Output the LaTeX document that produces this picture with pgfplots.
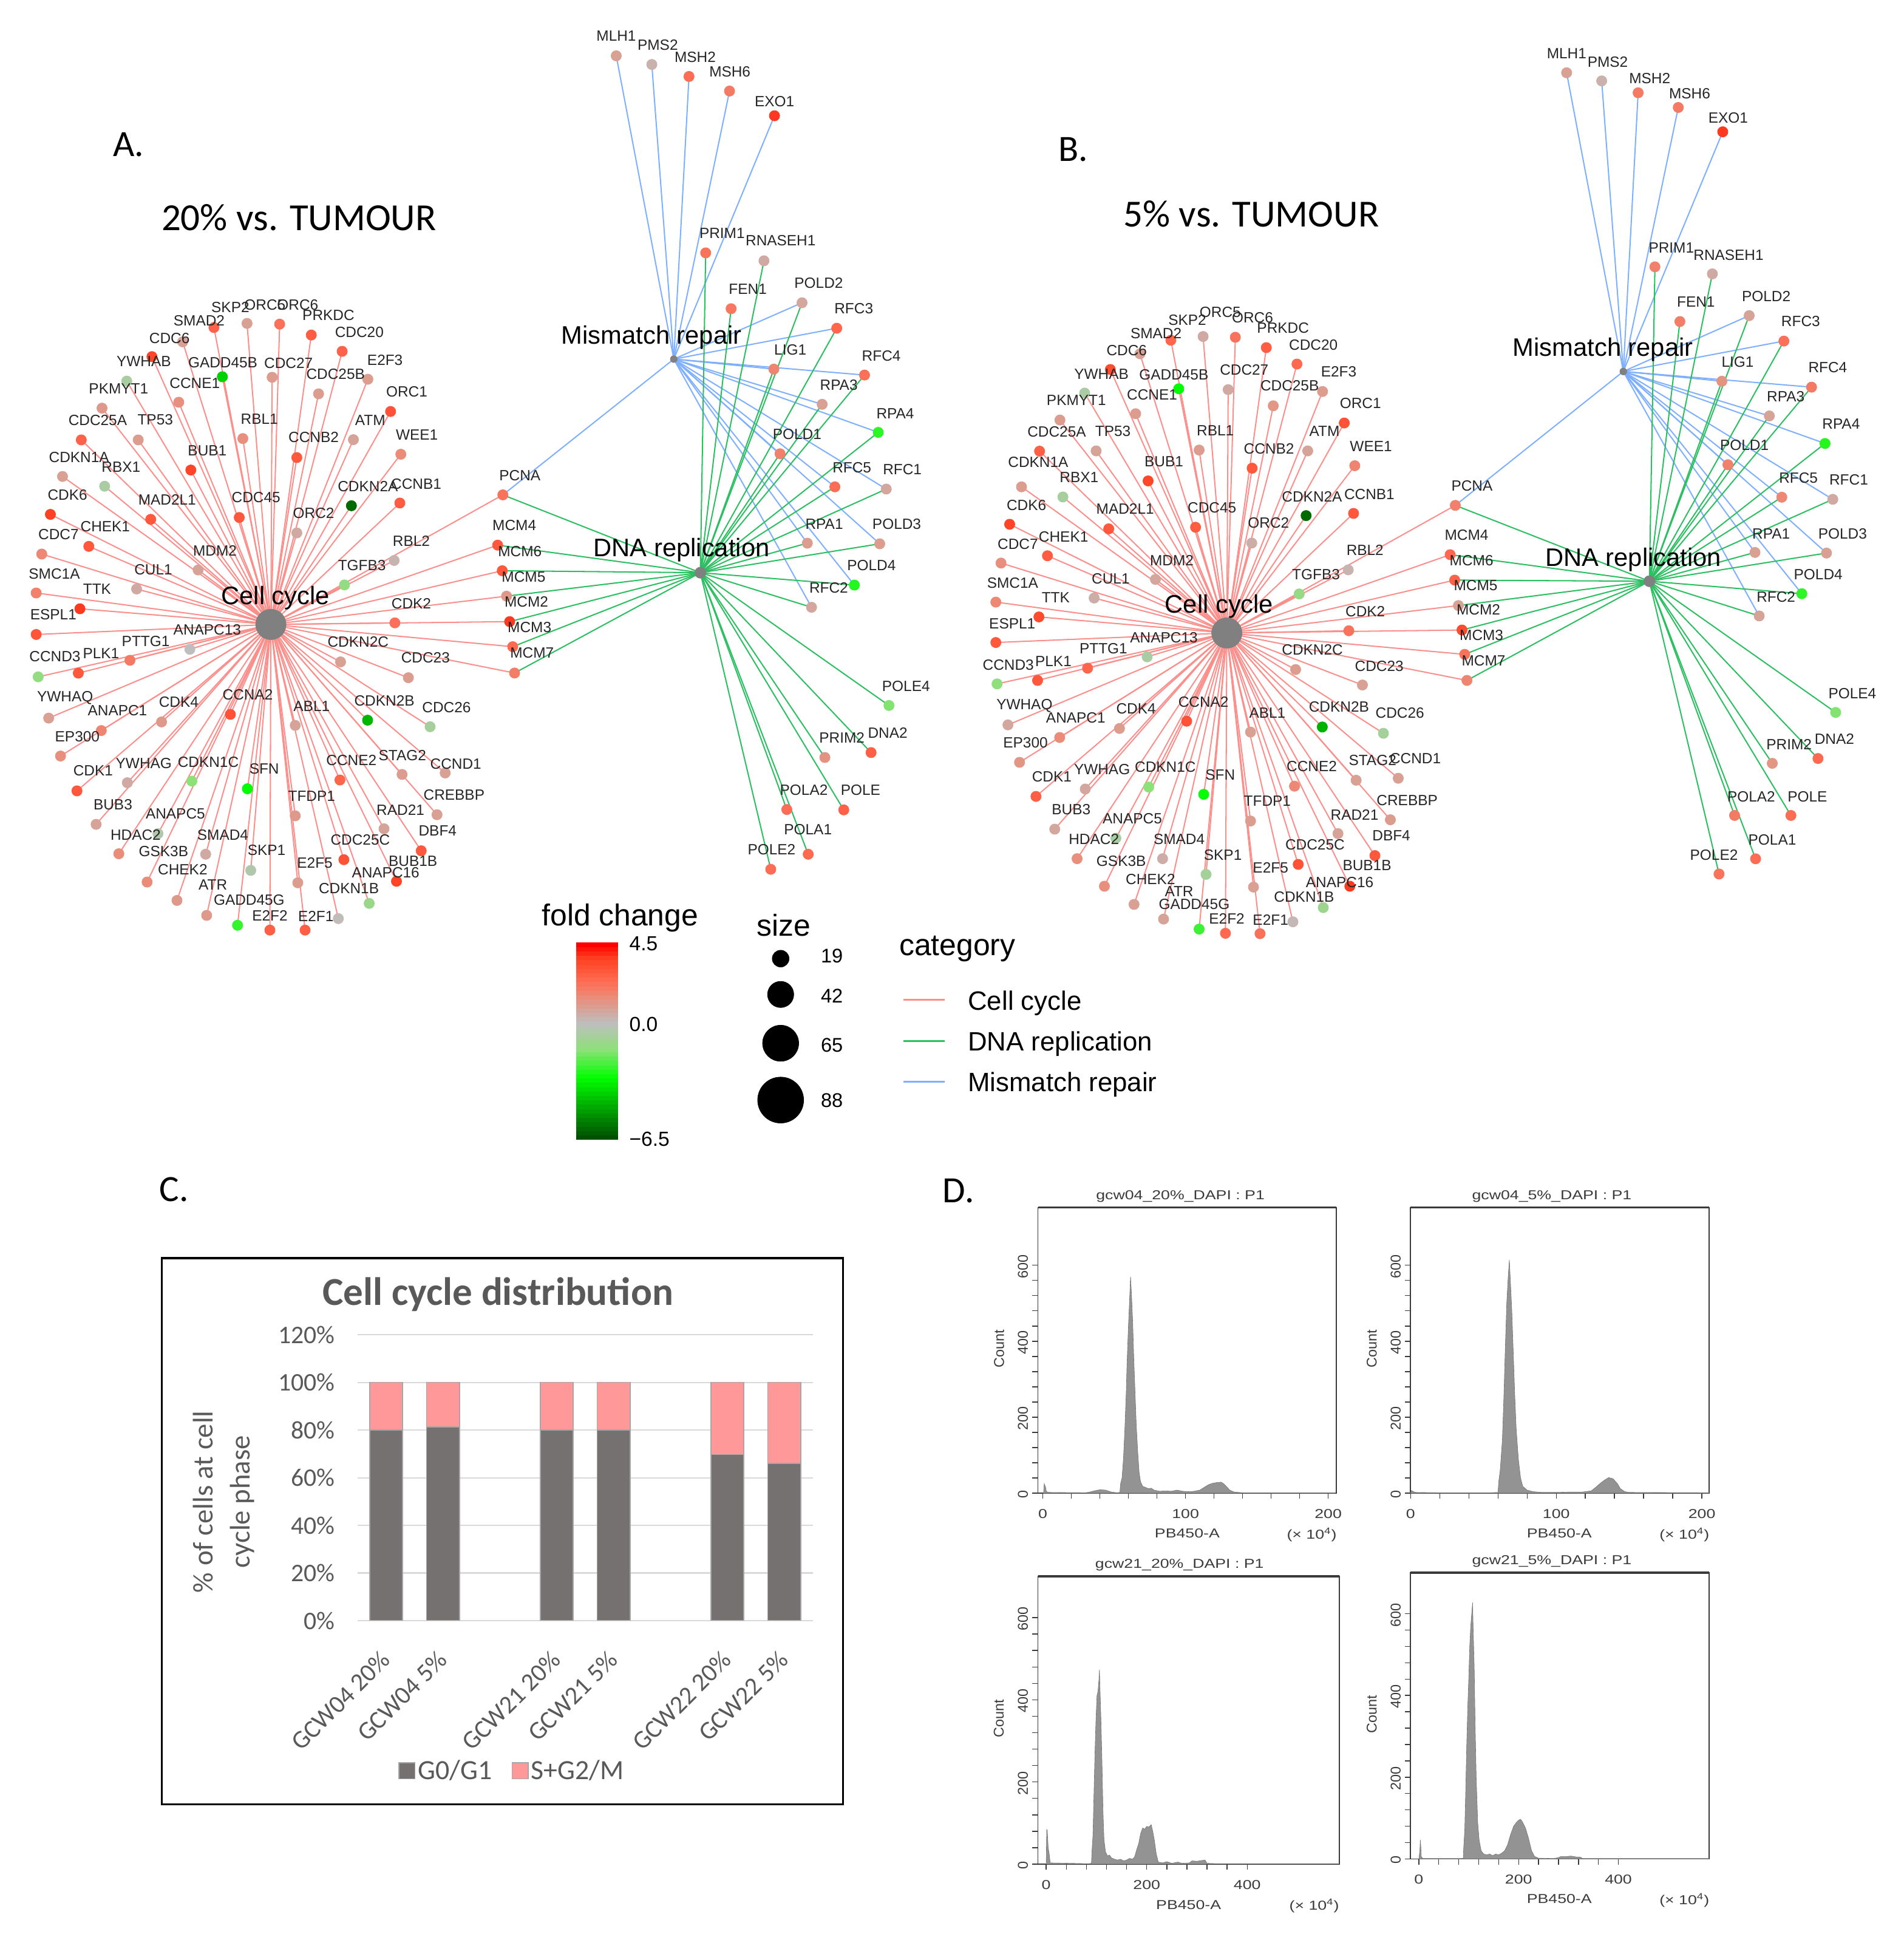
\documentclass[border=0pt]{standalone}
\usepackage{fontspec}
\usepackage{pgfplots}
\usepackage{pgfplotstable}
\pgfplotsset{compat=1.18}
\setmainfont{Liberation Sans}
\newfontfamily\calibri{Carlito}
\newfontfamily\histwide[FakeStretch=1.25]{Liberation Sans}
\newcommand{\fs}[1]{\fontsize{#1}{#1}\selectfont}
\newcommand{\netfont}{\fs{12}}

\definecolor{edgecell}{HTML}{FB8F8C}
\definecolor{edgedna}{HTML}{2CBF62}
\definecolor{edgemmr}{HTML}{7FB0FF}
\definecolor{labeltxt}{HTML}{262626}
\definecolor{hubgrey}{HTML}{808080}
\definecolor{excelgrey}{HTML}{595959}
\definecolor{bardark}{HTML}{767171}
\definecolor{barpink}{HTML}{FF9999}
\definecolor{barline}{HTML}{A6A6A6}
\definecolor{gridl}{HTML}{D9D9D9}
\definecolor{histfill}{HTML}{939393}
\definecolor{histline}{HTML}{3A3A3A}

\pgfdeclareplotmark{cbcell}{\pgfpathrectangle{\pgfpoint{-17pt}{-2pt}}{\pgfpoint{34pt}{4pt}}\pgfusepathqfill}

\pgfplotsset{
  /pgf/number format/assume math mode=true,
  colormap={fc}{rgb255(0)=(0,80,0) rgb255(34)=(0,255,0) rgb255(50)=(140,225,120)
    rgb255(65)=(190,190,190) rgb255(80)=(235,140,120) rgb255(90)=(255,105,80) rgb255(102)=(255,65,35) rgb255(110)=(255,0,0)},
  colormap name=fc,
  hist/.style={
    scale only axis, axis line style={histline,line width=0.9pt},
    tick style={histline,line width=0.7pt}, tick pos=left,
    tick align=outside, major tick length=4.5pt, minor tick length=4.5pt,
    ymin=0, xtick={0,100,200}, ytick={0,200,400,600},
    minor x tick num=4, minor y tick num=4,
    x tick label style={font=\histwide\fs{10.5},yshift=-5pt,text=histline},
    y tick label style={font=\fs{11.5},rotate=90,anchor=south,text=histline,xshift=-1pt},
    title style={font=\histwide\fs{10.5},text=histline,anchor=center,yshift=-6pt},
    every axis x label/.style={font=\histwide\fs{10.5},text=histline,anchor=center},
    ylabel=Count,
    every axis y label/.style={font=\fs{11.5},text=histline,rotate=90,anchor=center,at={(axis description cs:-0.13,0.505)}},
    xlabel=PB450-A,
    extra description/.code={
      \draw[histline,line width=1.8pt] (axis description cs:0,1)--(axis description cs:1,1);
      \node[font=\histwide\fs{10.5},text=histline] at (axis description cs:0.917,-0.145) {(× 10\textsuperscript{4})};
    }},
  histshape/.style={fill=histfill,draw=histline!70,line width=0.3pt}
}

% lab, node x y, fold change, label x y, membership of cell cycle / DNA replication / mismatch repair
\pgfplotstableread{
lab x y fc lx ly cc dna mmr
SMAD2 147.9 276.7 0.9 161.2 259.8 1 0 0
SKP2 173.2 265.1 2.7 186.5 248.6 1 0 0
ORC5 200.0 261.8 0.9 214.5 246.6 1 0 0
ORC6 226.4 262.4 2.3 241.0 246.6 1 0 0
PRKDC 252.0 271.2 2.9 265.9 255.2 1 0 0
CDC20 277.0 284.4 2.7 290.9 269.0 1 0 0
E2F3 297.8 307.0 1.0 311.7 291.4 1 0 0
ORC1 316.2 333.1 3.2 329.3 317.3 1 0 0
CDC6 123.0 288.7 3.6 137.2 273.8 1 0 0
YWHAB 102.6 308.5 -0.6 116.4 292.5 1 0 0
PKMYT1 82.6 330.4 1.1 96.0 314.4 1 0 0
CDC25A 65.8 356.1 2.7 79.1 340.1 1 0 0
CDKN1A 50.6 385.7 0.9 64.0 370.0 1 0 0
CDK6 40.8 416.4 3.7 54.6 400.6 1 0 0
CDC7 33.8 448.5 1.6 47.4 432.5 1 0 0
SMC1A 29.3 480.0 1.8 44.0 464.7 1 0 0
ESPL1 29.3 513.6 3.1 43.2 497.6 1 0 0
CCND3 30.9 547.9 -1.3 44.5 531.6 1 0 0
GADD45B 180.0 305.0 -4.0 180.4 293.6 1 0 0
CCNE1 144.7 325.6 1.4 157.7 310.0 1 0 0
CDC27 220.3 305.4 1.0 233.6 294.2 1 0 0
CDC25B 257.9 318.8 1.0 271.7 303.0 1 0 0
TP53 111.9 356.1 1.0 125.7 339.9 1 0 0
RBL1 196.6 355.0 1.4 210.0 339.0 1 0 0
CCNB2 240.3 370.4 3.0 253.9 354.1 1 0 0
ATM 286.1 355.9 0.8 299.7 340.3 1 0 0
WEE1 324.5 367.7 1.5 337.5 352.0 1 0 0
CCNB1 323.7 407.2 2.9 337.0 391.9 1 0 0
CDKN2A 284.5 409.4 -6.0 297.8 393.6 1 0 0
ORC2 240.3 431.4 0.6 253.9 415.3 1 0 0
CDC45 193.7 418.9 3.0 207.3 402.8 1 0 0
BUB1 154.5 380.5 3.6 167.8 364.9 1 0 0
MAD2L1 122.0 420.4 3.0 135.3 404.4 1 0 0
RBX1 84.7 393.6 -0.6 98.0 378.0 1 0 0
CHEK1 71.9 442.3 3.0 85.2 426.3 1 0 0
MDM2 160.4 461.4 0.8 174.0 445.6 1 0 0
CUL1 110.6 476.8 0.6 124.1 461.0 1 0 0
TTK 64.7 492.8 3.8 78.6 476.8 1 0 0
RBL2 319.1 453.7 0.3 333.0 438.0 1 0 0
TGFB3 278.9 473.5 -1.3 293.0 457.7 1 0 0
CDK2 319.7 504.2 2.3 333.0 488.4 1 0 0
ANAPC13 153.7 525.6 0.0 167.8 509.7 1 0 0
PTTG1 105.2 534.5 2.0 118.0 519.1 1 0 0
PLK1 63.4 544.9 3.0 81.8 529.0 1 0 0
CDKN2C 275.7 535.8 0.9 289.9 519.8 1 0 0
CDC23 330.6 548.6 1.0 344.5 532.3 1 0 0
YWHAQ 39.4 581.3 0.9 52.7 565.1 1 0 0
ANAPC1 82.0 591.4 1.7 95.1 575.3 1 0 0
CDK4 130.8 584.4 1.1 144.7 568.3 1 0 0
CCNA2 186.5 578.3 3.2 200.6 562.5 1 0 0
ABL1 239.0 587.2 0.8 252.3 571.6 1 0 0
CDKN2B 297.6 583.0 -4.5 311.2 567.2 1 0 0
CDC26 348.2 588.3 -0.7 361.5 572.5 1 0 0
EP300 49.0 612.0 1.4 62.6 596.2 1 0 0
CDK1 62.3 640.2 3.0 75.4 623.9 1 0 0
YWHAG 103.1 633.6 0.6 116.4 617.8 1 0 0
CDKN1C 155.3 632.3 -1.5 168.6 616.9 1 0 0
SFN 200.3 638.5 -3.1 213.9 622.5 1 0 0
CCNE2 275.2 631.4 2.6 284.5 615.5 1 0 0
STAG2 325.5 626.9 1.0 325.8 611.3 1 0 0
CCND1 360.4 625.7 0.9 369.0 618.3 1 0 0
TFDP1 239.0 660.4 1.1 252.3 644.4 1 0 0
CREBBP 353.8 659.5 0.9 367.6 643.6 1 0 0
RAD21 310.9 670.9 0.8 324.2 655.5 1 0 0
DBF4 341.0 688.7 3.0 354.3 672.7 1 0 0
BUB3 77.8 667.3 0.8 91.4 651.1 1 0 0
ANAPC5 127.9 674.8 -0.4 142.0 658.5 1 0 0
HDAC2 96.2 691.1 1.5 109.8 675.7 1 0 0
SMAD4 166.5 691.5 0.6 180.4 675.7 1 0 0
GSK3B 119.1 714.0 1.5 132.4 689.2 1 0 0
CHEK2 143.3 728.9 1.1 147.9 703.8 1 0 0
SKP1 203.0 704.6 -0.4 215.8 688.3 1 0 0
CDC25C 278.4 695.9 3.2 291.7 680.0 1 0 0
E2F5 241.1 714.6 1.0 254.9 698.5 1 0 0
BUB1B 321.0 713.4 3.6 334.3 697.1 1 0 0
ANAPC16 298.9 731.3 -1.1 312.2 706.4 1 0 0
CDKN1B 273.9 743.6 0.1 282.4 719.0 1 0 0
ATR 167.3 741.0 1.1 172.4 716.0 1 0 0
GADD45G 192.3 749.0 -2.5 201.7 728.7 1 0 0
E2F2 218.5 752.9 2.8 218.5 741.1 1 0 0
E2F1 247.0 752.9 2.8 255.7 741.5 1 0 0
PCNA 407.1 400.6 2.2 420.9 384.8 1 1 1
MCM4 402.9 441.3 3.0 416.4 425.2 1 1 0
MCM6 406.6 462.0 3.0 420.9 446.3 1 1 0
MCM5 410.1 482.6 1.1 423.9 467.1 1 1 0
MCM2 412.6 503.2 3.8 426.2 487.4 1 1 0
MCM3 415.1 523.5 2.5 428.7 507.7 1 1 0
MCM7 416.6 544.8 1.9 430.7 528.5 1 1 0
MLH1 498.9 45.2 0.9 498.9 29.2 0 0 1
PMS2 527.7 52.2 0.4 532.5 36.2 0 0 1
MSH2 557.8 61.9 2.4 562.8 46.1 0 0 1
MSH6 590.6 73.7 2.0 590.9 57.9 0 0 1
EXO1 627.0 93.7 3.8 627.0 82.3 0 0 1
PRIM1 571.3 204.7 2.2 584.6 188.7 0 1 0
RNASEH1 618.5 211.1 0.6 632.0 194.6 0 1 0
FEN1 591.9 249.9 2.1 605.4 234.1 0 1 0
POLD2 649.3 245.1 0.7 662.8 229.3 0 1 1
RFC3 677.4 265.7 2.6 691.2 249.7 0 1 1
LIG1 626.5 298.8 1.7 639.8 283.0 0 1 1
RFC4 699.9 303.6 2.3 713.5 287.9 0 1 1
RPA3 665.6 327.3 0.9 679.1 311.5 0 1 1
RPA4 711.0 350.0 -2.6 724.8 334.6 0 1 1
POLD1 631.5 367.3 1.8 645.3 351.7 0 1 1
RFC5 675.9 394.1 2.4 689.7 378.6 0 1 1
RFC1 717.5 395.9 0.7 730.5 379.8 0 1 1
RPA1 653.6 439.7 1.0 667.3 424.0 0 1 1
POLD3 712.2 440.2 1.0 726.0 424.0 0 1 1
POLD4 691.7 473.6 -2.7 705.5 457.5 0 1 1
RFC2 657.0 491.6 0.7 670.9 475.8 0 1 1
POLE4 719.7 571.1 -1.6 733.5 555.3 0 1 0
PRIM2 667.8 613.2 1.3 681.6 597.4 0 1 0
DNA2 705.2 609.2 2.8 718.7 593.2 0 1 0
POLA2 637.0 655.3 2.4 650.8 639.3 0 1 0
POLE 683.1 655.6 2.7 696.7 639.3 0 1 0
POLA1 654.3 691.5 2.5 654.1 671.4 0 1 0
POLE2 624.0 703.7 2.4 624.7 687.7 0 1 0
}\netA

\pgfplotstableread{
lab x y fc lx ly cc dna mmr
SMAD2 922.9 286.4 0.9 935.9 270.0 1 0 0
SKP2 947.9 275.4 2.6 961.2 259.0 1 0 0
ORC5 974.0 272.4 0.6 987.9 252.8 1 0 0
ORC6 1000.1 273.0 2.2 1014.0 257.2 1 0 0
PRKDC 1025.2 281.4 2.9 1038.7 265.6 1 0 0
CDC20 1050.0 294.7 2.5 1063.3 279.2 1 0 0
E2F3 1070.7 316.9 1.0 1083.8 301.1 1 0 0
ORC1 1088.3 342.4 3.2 1101.4 326.6 1 0 0
CDC6 898.9 299.1 3.4 912.2 283.8 1 0 0
YWHAB 878.1 318.2 -0.6 891.7 302.9 1 0 0
PKMYT1 858.1 340.0 1.0 871.4 324.1 1 0 0
CDC25A 841.6 365.2 2.8 855.5 349.4 1 0 0
CDKN1A 827.0 394.1 1.0 840.5 374.2 1 0 0
CDK6 817.4 424.4 3.6 831.0 408.8 1 0 0
CDC7 810.4 455.8 1.4 824.0 440.4 1 0 0
SMC1A 806.2 487.4 1.6 819.8 471.8 1 0 0
ESPL1 806.2 520.1 3.0 819.5 504.7 1 0 0
CCND3 807.2 553.6 -1.4 816.3 538.1 1 0 0
GADD45B 954.3 314.7 -3.1 950.3 303.3 1 0 0
CCNE1 919.4 334.9 1.0 932.7 319.3 1 0 0
CDC27 994.3 315.4 0.6 1007.3 299.6 1 0 0
CDC25B 1030.8 328.5 1.2 1044.1 312.3 1 0 0
TP53 887.4 365.0 0.8 901.0 349.2 1 0 0
RBL1 970.8 364.3 1.0 983.9 348.5 1 0 0
CCNB2 1013.7 379.0 3.0 1027.3 363.2 1 0 0
ATM 1058.7 365.0 0.8 1072.3 349.0 1 0 0
WEE1 1096.8 377.0 1.7 1109.9 361.4 1 0 0
CCNB1 1095.8 415.6 3.0 1108.6 400.1 1 0 0
CDKN2A 1057.4 417.4 -6.0 1062.2 402.3 1 0 0
ORC2 1013.4 439.6 0.5 1027.0 423.5 1 0 0
CDC45 967.9 426.8 2.9 981.2 411.0 1 0 0
BUB1 929.5 389.3 3.5 942.3 373.5 1 0 0
MAD2L1 897.6 428.1 3.0 910.9 412.1 1 0 0
RBX1 860.5 402.3 -0.7 873.6 386.2 1 0 0
CHEK1 848.0 449.9 2.9 861.0 434.5 1 0 0
MDM2 935.4 469.0 0.7 948.7 453.6 1 0 0
CUL1 885.8 484.1 0.5 899.2 468.5 1 0 0
TTK 841.1 499.4 3.4 854.7 483.9 1 0 0
RBL2 1091.5 461.3 0.3 1105.1 445.5 1 0 0
TGFB3 1051.8 480.8 -1.2 1065.4 464.8 1 0 0
CDK2 1092.0 510.6 2.2 1105.3 494.8 1 0 0
ANAPC13 928.7 531.7 -0.6 942.3 516.3 1 0 0
PTTG1 880.5 540.9 2.6 893.3 525.1 1 0 0
PLK1 840.0 550.8 3.0 852.8 535.4 1 0 0
CDKN2C 1048.9 542.0 1.0 1062.5 526.2 1 0 0
CDC23 1103.0 554.5 0.9 1116.6 539.2 1 0 0
YWHAQ 816.0 586.8 0.7 829.4 571.1 1 0 0
ANAPC1 857.9 597.0 1.5 870.9 581.2 1 0 0
CDK4 906.3 589.7 1.0 919.7 573.9 1 0 0
CCNA2 960.7 583.8 3.2 974.3 568.2 1 0 0
ABL1 1012.4 592.6 0.9 1026.0 577.0 1 0 0
CDKN2B 1070.5 588.5 -4.6 1084.0 572.3 1 0 0
CDC26 1120.0 593.6 -0.8 1133.3 577.3 1 0 0
EP300 825.4 617.1 1.2 830.2 601.2 1 0 0
CDK1 838.7 644.7 2.8 851.5 628.6 1 0 0
YWHAG 878.6 638.7 0.7 892.2 622.7 1 0 0
CDKN1C 930.0 637.1 -1.5 943.4 621.0 1 0 0
SFN 974.5 643.0 -3.0 987.9 627.4 1 0 0
CCNE2 1048.0 636.4 1.6 1062.0 620.6 1 0 0
STAG2 1097.9 631.6 0.9 1111.2 615.6 1 0 0
CCND1 1132.0 630.0 0.9 1145.8 614.2 1 0 0
TFDP1 1012.4 664.6 1.0 1026.0 648.6 1 0 0
CREBBP 1125.6 663.6 1.0 1139.2 647.7 1 0 0
RAD21 1083.2 674.8 0.8 1096.6 659.6 1 0 0
DBF4 1113.1 692.6 3.0 1126.4 676.5 1 0 0
BUB3 853.9 671.2 0.7 867.2 655.3 1 0 0
ANAPC5 903.4 678.5 -0.6 916.7 662.4 1 0 0
HDAC2 872.0 695.1 1.4 885.6 679.4 1 0 0
SMAD4 941.2 695.1 0.5 954.6 679.4 1 0 0
GSK3B 894.1 717.4 1.4 907.7 697.1 1 0 0
CHEK2 918.1 732.1 0.9 931.4 712.0 1 0 0
SKP1 976.4 707.8 -0.8 990.0 692.0 1 0 0
CDC25C 1051.0 699.7 3.2 1064.6 683.6 1 0 0
E2F5 1014.8 718.1 0.9 1028.6 702.5 1 0 0
BUB1B 1092.8 717.4 3.8 1106.7 700.5 1 0 0
ANAPC16 1071.3 734.7 -1.0 1084.6 714.0 1 0 0
CDKN1B 1046.7 746.2 0.2 1055.8 726.2 1 0 0
ATR 942.0 744.0 0.8 954.6 721.7 1 0 0
GADD45G 970.8 752.1 -2.4 966.8 731.8 1 0 0
E2F2 992.1 755.5 2.5 993.2 743.7 1 0 0
E2F1 1020.1 755.8 2.3 1028.6 744.5 1 0 0
PCNA 1178.2 409.1 1.8 1191.7 393.3 1 1 1
MCM4 1174.0 449.0 2.5 1187.3 433.2 1 1 0
MCM6 1177.7 469.6 2.7 1191.3 453.8 1 1 0
MCM5 1180.7 490.2 0.9 1194.7 474.0 1 1 0
MCM2 1183.6 510.0 3.4 1196.9 493.7 1 1 0
MCM3 1185.8 529.7 2.2 1199.4 514.4 1 1 0
MCM7 1187.6 550.8 1.7 1201.1 534.6 1 1 0
MLH1 1268.3 58.9 0.9 1268.3 43.5 0 0 1
PMS2 1296.7 65.5 0.4 1301.6 50.1 0 0 1
MSH2 1326.2 75.1 2.0 1335.6 63.7 0 0 1
MSH6 1358.7 87.0 2.0 1367.9 75.6 0 0 1
EXO1 1394.7 106.7 3.8 1399.1 95.3 0 0 1
PRIM1 1339.8 216.0 1.8 1353.1 200.6 0 1 0
RNASEH1 1386.3 221.7 0.6 1399.4 206.3 0 1 0
FEN1 1360.0 260.3 1.9 1373.0 244.5 0 1 0
POLD2 1416.1 255.5 0.8 1429.9 240.1 0 1 1
RFC3 1444.2 276.1 2.3 1457.8 259.9 0 1 1
LIG1 1394.0 308.6 1.3 1406.8 292.8 0 1 1
RFC4 1466.6 313.4 2.0 1479.7 297.6 0 1 1
RPA3 1432.4 336.7 0.8 1445.7 320.9 0 1 1
RPA4 1477.5 359.0 -2.7 1490.5 343.2 0 1 1
POLD1 1398.9 376.2 1.8 1412.2 360.4 0 1 1
RFC5 1442.5 402.5 1.6 1456.0 387.1 0 1 1
RFC1 1483.8 404.2 0.6 1496.7 388.4 0 1 1
RPA1 1420.8 447.2 0.9 1433.9 431.9 0 1 1
POLD3 1478.7 447.7 0.9 1491.7 431.9 0 1 1
POLD4 1458.7 480.6 -2.6 1472.0 464.8 0 1 1
RFC2 1424.2 498.6 0.8 1437.8 483.2 0 1 1
POLE4 1486.1 576.7 -1.6 1499.6 561.3 0 1 0
PRIM2 1434.8 617.9 1.2 1448.4 602.6 0 1 0
DNA2 1471.8 614.0 2.5 1485.1 598.2 0 1 0
POLA2 1404.3 660.1 2.0 1417.8 644.7 0 1 0
POLE 1449.9 660.1 2.4 1463.2 644.7 0 1 0
POLA1 1421.3 695.2 2.4 1434.8 679.8 0 1 0
POLE2 1391.7 707.5 2.2 1387.6 692.1 0 1 0
}\netB

% #1 table, #2 #3 cell cycle hub, #4 #5 DNA replication hub, #6 #7 mismatch repair hub
\newcommand{\network}[7]{
  \addplot[edgecell,line width=1pt,quiver={u=\thisrow{cc}*(#2-\thisrow{x}),v=\thisrow{cc}*(#3-\thisrow{y})}] table[x=x,y=y]{#1};
  \addplot[edgemmr,line width=1pt,quiver={u=\thisrow{mmr}*(#6-\thisrow{x}),v=\thisrow{mmr}*(#7-\thisrow{y})}] table[x=x,y=y]{#1};
  \addplot[edgedna,line width=1pt,quiver={u=\thisrow{dna}*(#4-\thisrow{x}),v=\thisrow{dna}*(#5-\thisrow{y})}] table[x=x,y=y]{#1};
  \addplot[scatter,only marks,mark=*,mark size=4.2,point meta=explicit,
    scatter/use mapped color={draw=mapped color,fill=mapped color}] table[x=x,y=y,meta=fc]{#1};
  \addplot[only marks,mark=none,point meta=explicit symbolic,nodes near coords,
    nodes near coords style={anchor=center,inner sep=0pt,font=\netfont,text=labeltxt}]
    table[x=lx,y=ly,meta=lab]{#1};
}

\begin{document}
\begin{tikzpicture}
\path[use as bounding box] (0,0) rectangle (1541pt,1568pt);

\begin{axis}[
  at={(0pt,0pt)}, anchor=south west, scale only axis,
  width=1541pt, height=1568pt,
  xmin=0, xmax=1541, ymin=0, ymax=1568, y dir=reverse,
  hide axis, clip=false,
  point meta min=-6.5, point meta max=4.5]

  % panel A
  \network{\netA}{219.3}{505.5}{567.0}{463.6}{545.5}{290.7}
  \addplot[only marks,mark=*,mark size=12.3,hubgrey] coordinates {(219.3,505.5)};
  \addplot[only marks,mark=*,mark size=4.5,hubgrey] coordinates {(567.0,463.6)};
  \addplot[only marks,mark=*,mark size=2.8,hubgrey] coordinates {(545.5,290.7)};
  \node[font=\fs{20.5},text=black] at (axis cs:223,484) {Cell cycle};
  \node[font=\fs{20.5},text=black] at (axis cs:551.8,445.3) {DNA replication};
  \node[font=\fs{20.5},text=black] at (axis cs:527.5,273) {Mismatch repair};

  % panel B
  \network{\netB}{993.2}{512.4}{1335.3}{470.5}{1314.2}{300.7}
  \addplot[only marks,mark=*,mark size=12.3,hubgrey] coordinates {(993.2,512.4)};
  \addplot[only marks,mark=*,mark size=4.5,hubgrey] coordinates {(1335.3,470.5)};
  \addplot[only marks,mark=*,mark size=2.8,hubgrey] coordinates {(1314.2,300.7)};
  \node[font=\fs{20.5},text=black] at (axis cs:987,491) {Cell cycle};
  \node[font=\fs{20.5},text=black] at (axis cs:1322.3,453.2) {DNA replication};
  \node[font=\fs{20.5},text=black] at (axis cs:1297.7,282.9) {Mismatch repair};

  % panel letters and titles
  \node[font=\calibri\fs{30}] at (axis cs:104,117) {A.};
  \node[font=\calibri\fs{30}] at (axis cs:869,121) {B.};
  \node[font=\calibri\fs{30}] at (axis cs:141,963) {C.};
  \node[font=\calibri\fs{30}] at (axis cs:776,964) {D.};
  \node[font=\calibri\fs{31}] at (axis cs:242,176) {20\% vs. TUMOUR};
  \node[font=\calibri\fs{31}] at (axis cs:1013,173) {5\% vs. TUMOUR};

  % legends
  \node[font=\fs{24.5}] at (axis cs:502,743) {fold change};
  \node[font=\fs{24.5}] at (axis cs:634.5,749) {size};
  \node[font=\fs{24.5}] at (axis cs:775,768) {category};
  \node[font=\fs{16.5},anchor=west] at (axis cs:506,764) {4.5};
  \node[font=\fs{16.5},anchor=west] at (axis cs:506,829) {0.0};
  \node[font=\fs{16.5},anchor=west] at (axis cs:506,922) {−6.5};

  \addplot[only marks,mark=*,mark size=6.8,black] coordinates {(632,776)};
  \addplot[only marks,mark=*,mark size=10.6,black] coordinates {(632,805)};
  \addplot[only marks,mark=*,mark size=14.6,black] coordinates {(632,844.5)};
  \addplot[only marks,mark=*,mark size=18.6,black] coordinates {(632,890.5)};
  \node[font=\fs{16},anchor=center] at (axis cs:673.5,774) {19};
  \node[font=\fs{16},anchor=center] at (axis cs:673.5,806) {42};
  \node[font=\fs{16},anchor=center] at (axis cs:673.5,846) {65};
  \node[font=\fs{16},anchor=center] at (axis cs:673.5,891) {88};

  \addplot[edgecell,line width=1.5pt] coordinates {(731.4,809.5) (765,809.5)};
  \addplot[edgedna,line width=1.5pt] coordinates {(731.4,842.5) (765,842.5)};
  \addplot[edgemmr,line width=1.5pt] coordinates {(731.4,875.5) (765,875.5)};
  \node[font=\fs{21.5},anchor=west,inner sep=0pt] at (axis cs:783.5,812) {Cell cycle};
  \node[font=\fs{21.5},anchor=west,inner sep=0pt] at (axis cs:783.5,845) {DNA replication};
  \node[font=\fs{21.5},anchor=west,inner sep=0pt] at (axis cs:783.5,878) {Mismatch repair};

  % frame of panel C
  \draw[black,line width=1.6pt] (axis cs:131,1018.5) rectangle (axis cs:682.5,1460.5);
\end{axis}

% fold change colour bar
\begin{axis}[
  at={(467.7pt,647.3pt)}, anchor=south west, scale only axis,
  width=31.7pt, height=156pt,
  xmin=0, xmax=1, ymin=-6.5, ymax=4.5, hide axis,
  point meta min=-6.5, point meta max=4.5]
  \addplot[scatter,only marks,mark=cbcell,point meta=y,
    scatter/use mapped color={draw=none,fill=mapped color}] coordinates {
    (.5,-6.5)(.5,-6.25)(.5,-6)(.5,-5.75)(.5,-5.5)(.5,-5.25)(.5,-5)(.5,-4.75)(.5,-4.5)
    (.5,-4.25)(.5,-4)(.5,-3.75)(.5,-3.5)(.5,-3.25)(.5,-3)(.5,-2.75)(.5,-2.5)(.5,-2.25)
    (.5,-2)(.5,-1.75)(.5,-1.5)(.5,-1.25)(.5,-1)(.5,-.75)(.5,-.5)(.5,-.25)(.5,0)
    (.5,.25)(.5,.5)(.5,.75)(.5,1)(.5,1.25)(.5,1.5)(.5,1.75)(.5,2)(.5,2.25)(.5,2.5)
    (.5,2.75)(.5,3)(.5,3.25)(.5,3.5)(.5,3.75)(.5,4)(.5,4.25)(.5,4.5)};
\end{axis}

% panel C
\begin{axis}[
  at={(289.6pt,256.1pt)}, anchor=south west, scale only axis,
  width=368.4pt, height=231.4pt,
  ybar stacked, bar width=0.58,
  xmin=-0.5, xmax=7.5, ymin=0, ymax=120,
  xtick={0,1,3,4,6,7},
  xticklabels={GCW04 20\%,GCW04 5\%,GCW21 20\%,GCW21 5\%,GCW22 20\%,GCW22 5\%},
  ytick={0,20,...,120},
  yticklabel={\pgfmathprintnumber{\tick}\%},
  ymajorgrids, grid style={gridl,line width=1pt},
  axis line style={draw=none}, tick style={draw=none},
  y tick label style={font=\calibri\fs{20.5},text=excelgrey,xshift=-15pt},
  x tick label style={font=\calibri\fs{20.5},text=excelgrey,rotate=45,anchor=north east,xshift=-17pt,yshift=-9pt},
  title={\bfseries Cell cycle distribution},
  title style={font=\calibri\fs{32},text=excelgrey,at={(axis description cs:0.308,1.141)},anchor=center,yshift=-6pt},
  ylabel={\% of cells at cell\\cycle phase},
  every axis y label/.style={at={(axis description cs:-0.2945,0.416)},rotate=90,anchor=center,align=center,font=\calibri\fontsize{23}{30}\selectfont,text=excelgrey},
  legend style={at={(axis description cs:0.34,-0.525)},anchor=center,draw=none,fill=none,
    legend columns=2,font=\calibri\fs{22.5},text=excelgrey,/tikz/every even column/.append style={column sep=14pt}},
  legend image code/.code={\draw[#1,line width=0.8pt] (0pt,-6.5pt) rectangle (13pt,6.5pt);}]
  \addplot[fill=bardark,draw=barline,line width=0.8pt] coordinates {(0,80)(1,81.3)(3,80)(4,80)(6,69.7)(7,66)};
  \addplot[fill=barpink,draw=barline,line width=0.8pt] coordinates {(0,20)(1,18.7)(3,20)(4,20)(6,30.3)(7,34)};
  \legend{G0/G1,S+G2/M}
\end{axis}

% panel D
\begin{axis}[hist,
  at={(840.3pt,359.3pt)}, anchor=south west, width=241.7pt, height=231.2pt,
  xmin=-3.4, xmax=205.8, ymax=752,
  title={gcw04\_20\%\_DAPI : P1}, title style={at={(axis description cs:0.477,1.04)}},
  xlabel style={at={(axis description cs:0.5,-0.14)}}]
  \addplot[histshape] coordinates {(0,0)(0.5,0)(1,25)(2,15)(2.5,4)(4,2)(30,1)(33,3)(36,6)(40,9)(44,8)(48,3)(52,1)(54,2)(54.5,25)(55.5,40)(56.5,90)(57.5,170)(58.5,270)(59,340)(60,440)(60.7,500)(61.5,570)(62.2,520)(63,450)(63.8,350)(64.5,280)(65.5,180)(66.5,110)(67.5,55)(68.5,30)(70,18)(72,15)(74,12)(76,13)(78,8)(82,5)(86,6)(90,5)(94,8)(98,5)(102,4)(106,5)(110,8)(113,15)(116,22)(119,26)(122,28)(125,29)(127,24)(129,16)(131,8)(134,3)(140,1)(205,1)} \closedcycle;
\end{axis}

\begin{axis}[hist,
  at={(1142pt,359.3pt)}, anchor=south west, width=241.7pt, height=231.2pt,
  xmin=0, xmax=205, ymax=752,
  title={gcw04\_5\%\_DAPI : P1}, title style={at={(axis description cs:0.473,1.04)}},
  xlabel style={at={(axis description cs:0.498,-0.14)}}]
  \addplot[histshape] coordinates {(0,0)(0.5,7)(1.5,5)(3,2)(20,1)(55,1)(60,2)(60.5,30)(61.5,60)(63,140)(64,250)(65,380)(66,500)(67,570)(67.8,614)(68.5,560)(69.5,480)(70.5,370)(71.5,260)(72.5,170)(74,90)(75.5,40)(77,18)(80,8)(84,4)(90,2)(100,2)(110,3)(118,3)(124,6)(127,15)(130,25)(133,34)(136,41)(139,38)(142,25)(144,12)(147,4)(150,2)(205,1)} \closedcycle;
\end{axis}

\begin{axis}[hist,
  at={(840.3pt,59pt)}, anchor=south west, width=243.9pt, height=233.1pt,
  xmin=-16.4, xmax=583, ymax=701,
  xtick={0,200,400},
  title={gcw21\_20\%\_DAPI : P1}, title style={at={(axis description cs:0.47,1.04)}},
  xlabel style={at={(axis description cs:0.5,-0.142)}}]
  \addplot[histshape] coordinates {(0,0)(1,84)(2,84)(4,40)(6,25)(8,3)(85,1)(90,2)(91,30)(93,70)(95,170)(97,270)(99,350)(101,410)(103,420)(105,450)(106,474)(107,430)(109,350)(111,250)(113,130)(115,60)(118,30)(122,20)(126,22)(130,15)(136,12)(142,10)(148,12)(154,8)(160,10)(166,14)(172,12)(176,18)(180,35)(184,50)(188,75)(192,88)(196,85)(200,92)(204,90)(209,96)(212,80)(215,60)(219,25)(223,5)(232,3)(240,6)(250,2)(262,5)(270,2)(285,3)(290,8)(300,7)(310,9)(316,10)(320,2)(340,1)(583,1)} \closedcycle;
\end{axis}

\begin{axis}[hist,
  at={(1142pt,63.2pt)}, anchor=south west, width=241.7pt, height=231.6pt,
  xmin=-16.5, xmax=582, ymax=700,
  xtick={0,200,400},
  title={gcw21\_5\%\_DAPI : P1}, title style={at={(axis description cs:0.473,1.04)}},
  xlabel style={at={(axis description cs:0.498,-0.139)}}]
  \addplot[histshape] coordinates {(0,0)(2,20)(3,47)(4,30)(5,5)(8,1)(85,1)(89,2)(90,30)(92,70)(94,170)(96,280)(98,370)(100,440)(102,520)(104,570)(106,600)(107.8,627)(109,560)(111,470)(113,320)(115,200)(118,90)(121,45)(125,20)(130,12)(136,10)(142,12)(148,8)(154,12)(160,10)(166,14)(172,20)(178,35)(184,60)(190,80)(196,90)(200,95)(204,97)(208,90)(214,75)(220,50)(226,20)(232,6)(240,2)(270,1)(279,3)(285,6)(295,6)(305,7)(315,5)(325,4)(328,1)(582,1)} \closedcycle;
\end{axis}
\end{tikzpicture}
\end{document}
